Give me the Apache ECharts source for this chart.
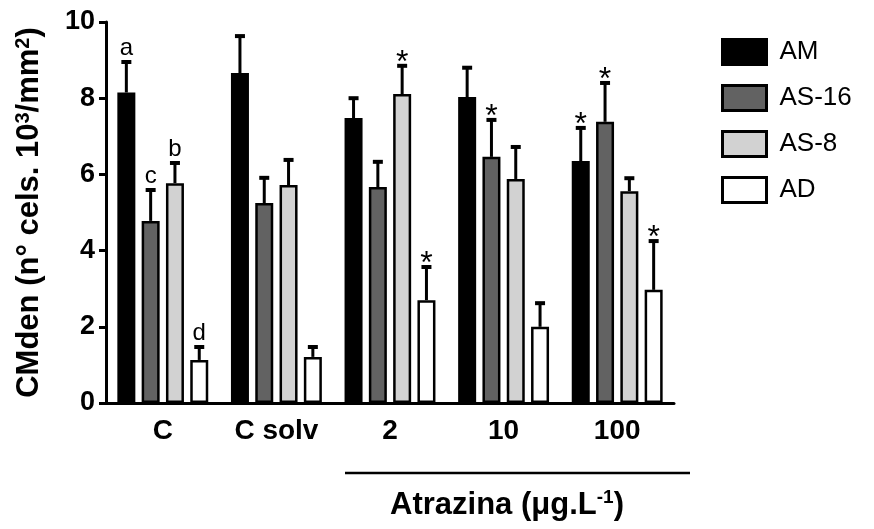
<!DOCTYPE html>
<html>
<head>
<meta charset="utf-8">
<script src="https://cdn.jsdelivr.net/npm/echarts@6/dist/echarts.min.js"></script>
<style>
  html, body { margin: 0; padding: 0; background: #fff; }
  #main { width: 874px; height: 529px; }
</style>
</head>
<body>
<div id="main"></div>
<script>
  // groups on the x axis
  var categories = ['C', 'C solv', '2', '10', '100']
  var seriesNames = ['AM', 'AS-16', 'AS-8', 'AD']

  // means
  var amValues = [8.15, 8.66, 7.48, 8.03, 6.35]
  var as16Values = [4.78, 5.25, 5.67, 6.46, 7.38]
  var as8Values = [5.77, 5.72, 8.11, 5.88, 5.56]
  var adValues = [1.13, 1.21, 2.70, 2.00, 2.97]

  // upper error (SEM)
  var amErr = [0.80, 0.97, 0.52, 0.77, 0.87]
  var as16Err = [0.81, 0.66, 0.66, 0.97, 1.02]
  var as8Err = [0.53, 0.66, 0.74, 0.84, 0.34]
  var adErr = [0.34, 0.26, 0.87, 0.62, 1.28]

  // letters / significance marks above the error bars
  var amMarks = ['a', '', '', '', '*']
  var as16Marks = ['c', '', '', '*', '*']
  var as8Marks = ['b', '', '*', '', '']
  var adMarks = ['d', '', '*', '', '*']

  var yTicks = [0, 2, 4, 6, 8, 10]

  var colors = ['#000000', '#626262', '#d2d2d2', '#ffffff']
  var values = [amValues, as16Values, as8Values, adValues]
  var errs = [amErr, as16Err, as8Err, adErr]
  var marks = [amMarks, as16Marks, as8Marks, adMarks]

  var FONT = '"Liberation Sans", Arial, sans-serif'
  var BAR_W = 18
  var GAP = 6.3

  function barOffset(i) {
    let total = seriesNames.length * BAR_W + (seriesNames.length - 1) * GAP
    return -total / 2 + i * (BAR_W + GAP) + BAR_W / 2
  }

  function buildBars() {
    let arr = []
    for (let i = 0; i < seriesNames.length; i++) {
      arr.push({
        name: seriesNames[i],
        type: 'bar',
        data: values[i],
        barWidth: BAR_W,
        barGap: (GAP / BAR_W * 100) + '%',
        itemStyle: { color: colors[i], borderColor: '#000', borderWidth: 2.5 },
        z: 2
      })
    }
    return arr
  }

  function buildErrors() {
    let arr = []
    for (let i = 0; i < seriesNames.length; i++) {
      let data = []
      for (let j = 0; j < categories.length; j++) {
        data.push([j, values[i][j], values[i][j] + errs[i][j], marks[i][j]])
      }
      arr.push({
        name: seriesNames[i] + '-err',
        type: 'custom',
        data: data,
        z: 3,
        silent: true,
        renderItem: (function (idx) {
          return function (params, api) {
            let lo = api.coord([api.value(0), api.value(1)])
            let hi = api.coord([api.value(0), api.value(2)])
            let x = lo[0] + barOffset(idx)
            let mark = data[params.dataIndex][3]
            let children = [
              { type: 'line', shape: { x1: x, y1: lo[1], x2: x, y2: hi[1] }, style: { stroke: '#000', lineWidth: 3 } },
              { type: 'line', shape: { x1: x - 5, y1: hi[1], x2: x + 5, y2: hi[1] }, style: { stroke: '#000', lineWidth: 4 } }
            ]
            if (mark) {
              let isStar = mark === '*'
              children.push({
                type: 'text',
                style: {
                  text: mark, x: x, y: hi[1] + (isStar ? 13 : -2),
                  align: 'center', verticalAlign: 'bottom',
                  font: (isStar ? '32px ' : '24px ') + FONT, fill: '#000'
                }
              })
            }
            return { type: 'group', children: children }
          }
        })(i)
      })
    }
    return arr
  }

  let myCharts = echarts.init(document.getElementById('main'))
  myCharts.setOption({
    animation: false,
    textStyle: { fontFamily: FONT },
    grid: { left: 106, right: 200, top: 22, bottom: 126, containLabel: false },
    legend: {
      data: seriesNames,
      orient: 'vertical',
      left: 716,
      top: 33,
      itemWidth: 44,
      itemHeight: 25,
      itemGap: 18,
      icon: 'rect',
      itemStyle: { borderColor: '#000', borderWidth: 3 },
      textStyle: { fontSize: 26, color: '#000', fontFamily: FONT, padding: [0, 0, 0, 8] }
    },
    xAxis: {
      type: 'category',
      data: categories,
      axisLine: { lineStyle: { color: '#000', width: 3 } },
      axisTick: { alignWithLabel: true, length: 8, lineStyle: { color: '#000', width: 3 } },
      axisLabel: { color: '#000', fontSize: 28, fontWeight: 'bold', margin: 14, fontFamily: FONT }
    },
    yAxis: {
      type: 'value',
      min: yTicks[0],
      max: yTicks[yTicks.length - 1],
      interval: 2,
      splitLine: { show: false },
      axisLine: { show: true, lineStyle: { color: '#000', width: 3 } },
      axisTick: { show: true, length: 7, lineStyle: { color: '#000', width: 3 } },
      axisLabel: { color: '#000', fontSize: 27, fontWeight: 'bold', margin: 11, fontFamily: FONT },
      name: '{t|CMden (n° cels. 10}{s|3}{t|/mm}{s|2}{t|)}',
      nameLocation: 'middle',
      nameRotate: 90,
      nameGap: 61,
      nameTextStyle: {
        rich: {
          t: { fontSize: 31, fontWeight: 'bold', color: '#000', fontFamily: FONT, verticalAlign: 'bottom' },
          s: { fontSize: 20, fontWeight: 'bold', color: '#000', fontFamily: FONT, verticalAlign: 'top', padding: [0, 0, 12, 0] }
        }
      }
    },
    graphic: [
      { type: 'line', shape: { x1: 345, y1: 473, x2: 690, y2: 473 }, style: { stroke: '#000', lineWidth: 2.5 } },
      {
        type: 'text', x: 507, y: 505,
        style: {
          text: '{t|Atrazina (μg.L}{s|-1}{t|)}',
          align: 'center', verticalAlign: 'middle',
          rich: {
            t: { fontSize: 31, fontWeight: 'bold', fill: '#000', fontFamily: FONT },
            s: { fontSize: 19, fontWeight: 'bold', fill: '#000', fontFamily: FONT, padding: [0, 0, 14, 0] }
          }
        }
      }
    ],
    color: colors,
    series: buildBars().concat(buildErrors())
  })
</script>
</body>
</html>
